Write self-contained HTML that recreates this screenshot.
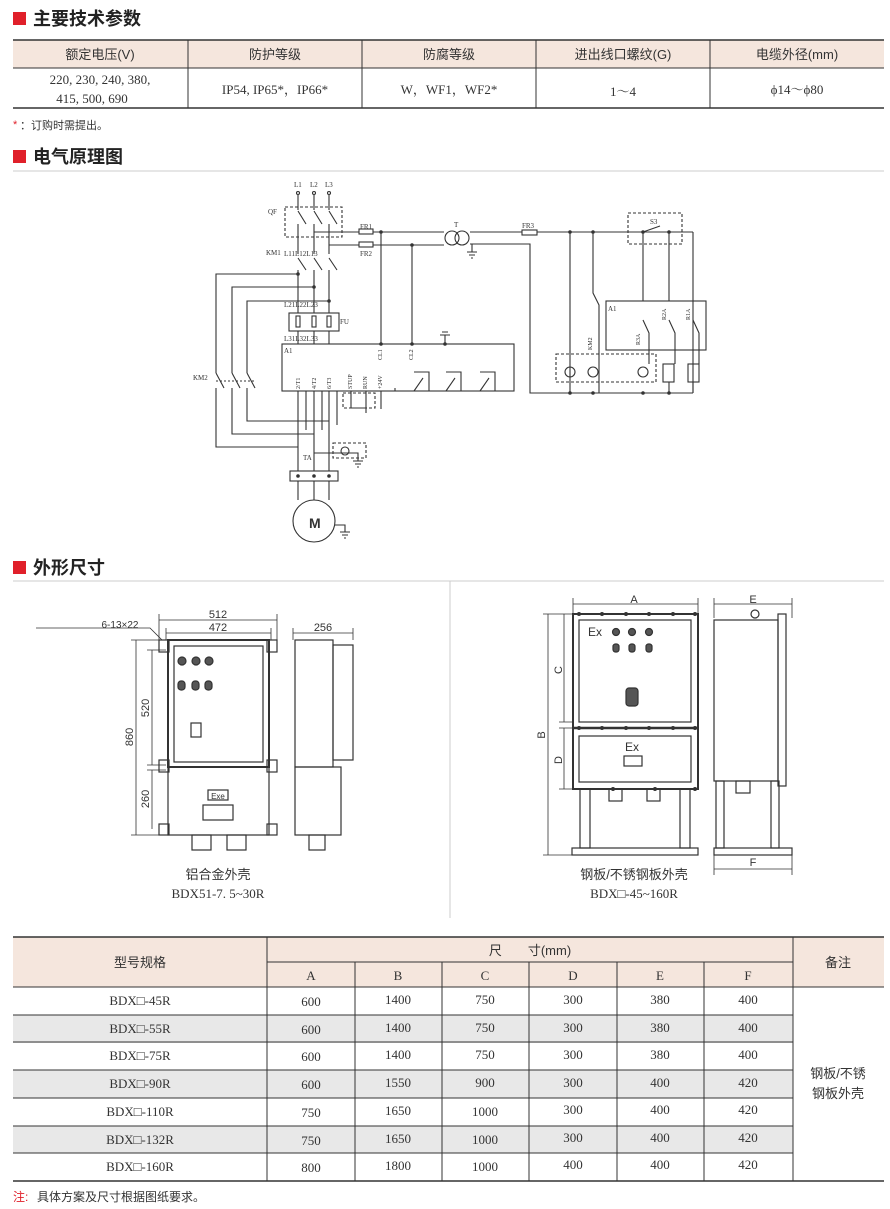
<!DOCTYPE html>
<html><head><meta charset="utf-8"><style>
html,body{margin:0;padding:0;background:#fff;}
svg{display:block;}
.t{font-family:"Liberation Sans","Noto Sans CJK SC",sans-serif;}
.s{font-family:"Liberation Serif","Noto Serif CJK SC",serif;}
.h{font-family:"Liberation Sans","Noto Sans CJK SC",sans-serif;font-weight:bold;font-size:18px;fill:#222;}
.dr{stroke:#333;stroke-width:1.2;fill:none;}
.dr circle,.dr rect[rx]{fill:#555;}
</style></head><body>
<svg width="890" height="1209" viewBox="0 0 890 1209" xmlns="http://www.w3.org/2000/svg">
<!-- Section 1 -->
<rect x="13" y="12" width="13" height="13" fill="#e0202a"/>
<text x="33" y="25" class="h">主要技术参数</text>
<rect x="13" y="40" width="871" height="28" fill="#f5e6dd"/>
<g stroke="#333" stroke-width="1">
<line x1="13" y1="40" x2="884" y2="40" stroke-width="1.5"/>
<line x1="13" y1="68" x2="884" y2="68"/>
<line x1="13" y1="108" x2="884" y2="108" stroke-width="1.5"/>
<line x1="188" y1="40" x2="188" y2="108"/><line x1="362" y1="40" x2="362" y2="108"/>
<line x1="536" y1="40" x2="536" y2="108"/><line x1="710" y1="40" x2="710" y2="108"/>
</g>
<g class="t" font-size="13" fill="#333" text-anchor="middle">
<text x="100" y="59">额定电压(V)</text><text x="275" y="59">防护等级</text><text x="449" y="59">防腐等级</text><text x="623" y="59">进出线口螺纹(G)</text><text x="797" y="59">电缆外径(mm)</text>
</g>
<g class="s" font-size="13" fill="#333" text-anchor="middle">
<text x="100" y="84">220, 230, 240, 380,</text><text x="92" y="103">415, 500, 690</text>
<text x="275" y="94">IP54,  IP65*，IP66*</text><text x="449" y="94">W，WF1，WF2*</text>
<text x="623" y="96">1～4</text><text x="797" y="94">ϕ14～ϕ80</text>
</g>
<text x="13" y="128" class="t" font-size="11" fill="#e0202a">*</text><text x="20" y="129" class="t" font-size="11" fill="#333">：订购时需提出。</text>
<!-- Section 2 -->
<rect x="13" y="150" width="13" height="13" fill="#e0202a"/>
<text x="33" y="163" class="h">电气原理图</text>
<line x1="13" y1="171" x2="884" y2="171" stroke="#ccc"/>
<!-- schematic -->
<g stroke="#333" stroke-width="1.1" fill="none">
<g class="s" font-size="7" fill="#333" stroke="none">
<text x="294" y="187">L1</text><text x="310" y="187">L2</text><text x="325" y="187">L3</text>
<text x="268" y="214">QF</text><text x="266" y="255">KM1</text><text x="360" y="229">FR1</text><text x="360" y="256">FR2</text>
<text x="454" y="227">T</text><text x="522" y="228">FR3</text><text x="650" y="224">S3</text>
<text x="284" y="256">L11L12L13</text><text x="284" y="307">L21L22L23</text><text x="284" y="341">L31L32L33</text>
<text x="340" y="324">FU</text><text x="284" y="353">A1</text><text x="608" y="311">A1</text><text x="193" y="380">KM2</text><text x="303" y="460">TA</text>
</g>
<circle cx="298" cy="193" r="1.5"/><circle cx="314" cy="193" r="1.5"/><circle cx="329" cy="193" r="1.5"/>
<rect x="285" y="207" width="57" height="30" stroke-dasharray="3,2"/>
<path d="M298 195V210M314 195V210M329 195V210M298 211L306 224M314 211L322 224M329 211L337 224M298 224V254M314 224V254M329 224V254"/>
<path d="M298 258L306 270M314 258L322 270M329 258L337 270M298 270V313M314 270V313M329 270V313"/>
<path d="M314 232H359M329 245H359M373 232H444M373 245H444M470 232H522M537 232H693M470 244H530V393H693"/>
<rect x="359" y="229" width="14" height="5"/><rect x="359" y="242" width="14" height="5"/><rect x="522" y="230" width="15" height="5"/>
<circle cx="452" cy="238" r="7"/><circle cx="462" cy="238" r="7"/>
<path d="M472 244V252M467 252H477M469 255H475M471 258H473"/>
<path d="M381 232V344M412 245V344"/>
<path d="M298 274H216V373M314 287H232V373M329 301H247V373M216 388V447H298M232 388V434H314M247 388V421H329"/>
<path d="M216 373L224 388M232 373L240 388M247 373L255 388"/>
<line x1="216" y1="381" x2="255" y2="381" stroke-dasharray="2,2"/>
<rect x="289" y="313" width="50" height="18"/>
<rect x="296" y="316" width="4" height="11"/><rect x="312" y="316" width="4" height="11"/><rect x="327" y="316" width="4" height="11"/>
<path d="M298 331V344M314 331V344M329 331V344"/>
<rect x="282" y="344" width="232" height="47"/>
<path d="M445 344V335M440 335H450M442 332H448"/>
<path d="M298 391V471M306 391V430M314 391V471M322 391V430M329 391V471M337 391V425"/>
<rect x="343" y="393" width="32" height="15" stroke-dasharray="3,2"/>
<path d="M351 391V408H366V413M366 391V413M381 391V409M381 391H395M395 391V388"/>
<path d="M414 372H429V391M414 391L423 378M446 372H461V391M446 391L455 378M480 372H495V391M480 391L489 378"/>
<rect x="333" y="443" width="33" height="15" stroke-dasharray="3,2"/>
<circle cx="345" cy="451" r="4"/>
<path d="M314 453H358V461M353 461H363M355 464H361M357 467H359"/>
<rect x="290" y="471" width="48" height="10"/>
<path d="M298 481V500M314 481V500M329 481V500"/>
<circle cx="314" cy="521" r="21"/>
<path d="M335 525H345V532M340 532H350M342 535H348M344 538H346"/>
<rect x="628" y="213" width="54" height="31" stroke-dasharray="3,2"/>
<path d="M643 232V301M669 232V301M693 232V393M643 232L660 226M570 232V393M593 232V293L599 305V393"/>
<rect x="606" y="301" width="100" height="49"/>
<path d="M643 320L649 333V364M669 320L675 333V364M693 320L699 333V364M669 382V393M693 382V393"/>
<rect x="556" y="354" width="100" height="28" stroke-dasharray="3,2"/>
<circle cx="570" cy="372" r="5"/><circle cx="593" cy="372" r="5"/><circle cx="643" cy="372" r="5"/>
<rect x="663" y="364" width="11" height="18"/><rect x="688" y="364" width="11" height="18"/>
<g class="s" font-size="6" fill="#333" stroke="none">
<text transform="translate(382,360) rotate(-90)">CL1</text><text transform="translate(413,360) rotate(-90)">CL2</text>
<text transform="translate(300,389) rotate(-90)">2/T1</text><text transform="translate(316,389) rotate(-90)">4/T2</text><text transform="translate(331,389) rotate(-90)">6/T3</text>
<text transform="translate(352,389) rotate(-90)">STUP</text><text transform="translate(367,389) rotate(-90)">RUN</text><text transform="translate(382,389) rotate(-90)">+24V</text>
<text transform="translate(640,345) rotate(-90)">R3A</text><text transform="translate(666,320) rotate(-90)">R2A</text><text transform="translate(690,320) rotate(-90)">R1A</text>
<text transform="translate(592,350) rotate(-90)">KM2</text>
</g>
<g fill="#333" stroke="none">
<circle cx="298" cy="274" r="1.8"/><circle cx="314" cy="287" r="1.8"/><circle cx="329" cy="301" r="1.8"/><circle cx="381" cy="232" r="1.8"/><circle cx="412" cy="245" r="1.8"/>
<circle cx="381" cy="344" r="1.8"/><circle cx="412" cy="344" r="1.8"/><circle cx="445" cy="344" r="1.8"/>
<circle cx="570" cy="232" r="1.8"/><circle cx="593" cy="232" r="1.8"/><circle cx="643" cy="232" r="1.8"/><circle cx="669" cy="232" r="1.8"/>
<circle cx="570" cy="393" r="1.8"/><circle cx="593" cy="393" r="1.8"/><circle cx="643" cy="393" r="1.8"/><circle cx="669" cy="393" r="1.8"/>
<circle cx="298" cy="476" r="1.8"/><circle cx="314" cy="476" r="1.8"/><circle cx="329" cy="476" r="1.8"/>
</g>
<text x="309" y="528" class="t" font-size="14" font-weight="bold" fill="#333" stroke="none">M</text>
</g>
<!-- Section 3 -->
<rect x="13" y="561" width="13" height="13" fill="#e0202a"/>
<text x="33" y="574" class="h">外形尺寸</text>
<line x1="13" y1="581" x2="884" y2="581" stroke="#ccc"/>
<line x1="450" y1="581" x2="450" y2="918" stroke="#ccc"/>
<!-- left drawing -->
<g class="dr">
<path d="M159 620H277M166 633H271M293 633H353M159 614V640M277 614V640M166 628V640M271 628V640M293 628V640M353 628V640" stroke-width="0.8"/>
<path d="M136 640V835M152 650V765M152 770V829M131 640H160M147 650H166M147 765H166M147 770H166M131 835H160" stroke-width="0.8"/>
<rect x="168" y="640" width="101" height="127" stroke-width="2"/>
<rect x="174" y="646" width="89" height="116"/>
<rect x="168" y="767" width="101" height="68"/>
<rect x="159" y="640" width="10" height="12"/><rect x="267" y="640" width="10" height="12"/>
<rect x="159" y="760" width="10" height="12"/><rect x="267" y="760" width="10" height="12"/>
<rect x="159" y="824" width="10" height="11"/><rect x="267" y="824" width="10" height="11"/>
<rect x="192" y="835" width="19" height="15"/><rect x="227" y="835" width="19" height="15"/>
<rect x="208" y="790" width="20" height="10"/><rect x="203" y="805" width="30" height="15"/>
<circle cx="182" cy="661" r="4"/><circle cx="196" cy="661" r="4"/><circle cx="209" cy="661" r="4"/>
<rect x="178" y="681" width="7" height="9" rx="3"/><rect x="192" y="681" width="7" height="9" rx="3"/><rect x="205" y="681" width="7" height="9" rx="3"/>
<rect x="191" y="723" width="10" height="14"/>
<rect x="295" y="640" width="38" height="127"/><rect x="333" y="645" width="20" height="115"/>
<rect x="295" y="767" width="46" height="68"/><rect x="309" y="835" width="16" height="15"/>
<path d="M36 628H150L162 640" stroke-width="0.8"/>
</g>
<g class="t" font-size="11" fill="#333" text-anchor="middle">
<text x="218" y="618">512</text><text x="218" y="631">472</text><text x="323" y="631">256</text><text x="120" y="628" font-size="10">6-13×22</text>
<text transform="translate(133,737) rotate(-90)">860</text><text transform="translate(149,708) rotate(-90)">520</text><text transform="translate(149,799) rotate(-90)">260</text>
<text x="218" y="799" font-size="8">Exe</text>
<text x="218" y="879" font-size="13">铝合金外壳</text>
</g>
<text x="218" y="898" class="s" font-size="13" fill="#333" text-anchor="middle">BDX51-7. 5~30R</text>
<!-- right drawing -->
<g class="dr">
<path d="M573 604H698M573 598V614M698 598V614M714 604H792M714 598V618M792 598V618M714 869H792M714 855V875M792 855V875" stroke-width="0.8"/>
<path d="M548 614V855M543 614H573M543 855H573M564 614V722M564 728V789M559 722H573M559 728H573M559 789H573" stroke-width="0.8"/>
<rect x="573" y="614" width="125" height="175" stroke-width="2"/>
<rect x="579" y="620" width="112" height="102"/>
<line x1="573" y1="728" x2="698" y2="728" stroke-width="2.5"/>
<rect x="579" y="736" width="112" height="46"/>
<rect x="580" y="789" width="10" height="59"/><rect x="680" y="789" width="10" height="59"/>
<rect x="572" y="848" width="126" height="7"/>
<rect x="609" y="789" width="13" height="12"/><rect x="647" y="789" width="13" height="12"/>
<rect x="624" y="756" width="18" height="10"/>
<circle cx="616" cy="632" r="3.5"/><circle cx="632" cy="632" r="3.5"/><circle cx="649" cy="632" r="3.5"/>
<rect x="613" y="644" width="6" height="8" rx="2.5"/><rect x="629" y="644" width="6" height="8" rx="2.5"/><rect x="646" y="644" width="6" height="8" rx="2.5"/>
<rect x="626" y="688" width="12" height="18" rx="3"/>
<rect x="714" y="620" width="64" height="161"/><rect x="778" y="614" width="8" height="172"/>
<rect x="716" y="781" width="8" height="67"/><rect x="771" y="781" width="8" height="67"/>
<rect x="714" y="848" width="78" height="7"/><rect x="736" y="781" width="14" height="12"/>
<circle cx="755" cy="614" r="4" style="fill:none"/>
</g>
<g fill="#333"><circle cx="579" cy="614" r="2"/><circle cx="602" cy="614" r="2"/><circle cx="626" cy="614" r="2"/><circle cx="649" cy="614" r="2"/><circle cx="673" cy="614" r="2"/><circle cx="695" cy="614" r="2"/>
<circle cx="579" cy="728" r="2"/><circle cx="602" cy="728" r="2"/><circle cx="626" cy="728" r="2"/><circle cx="649" cy="728" r="2"/><circle cx="673" cy="728" r="2"/><circle cx="695" cy="728" r="2"/>
<circle cx="613" cy="789" r="2"/><circle cx="655" cy="789" r="2"/><circle cx="695" cy="789" r="2"/></g>
<g class="t" font-size="11" fill="#333" text-anchor="middle">
<text x="634" y="603">A</text><text x="753" y="603">E</text><text x="753" y="866">F</text>
<text transform="translate(545,735) rotate(-90)">B</text><text transform="translate(562,670) rotate(-90)">C</text><text transform="translate(562,760) rotate(-90)">D</text>
<text x="595" y="636" font-size="12">Ex</text><text x="632" y="751" font-size="12">Ex</text>
<text x="634" y="879" font-size="13">钢板/不锈钢板外壳</text>
</g>
<text x="634" y="898" class="s" font-size="13" fill="#333" text-anchor="middle">BDX□-45~160R</text>
<!-- Table 2 -->
<rect x="13" y="937" width="871" height="50" fill="#f5e6dd"/>
<rect x="13" y="1015" width="780" height="28" fill="#e8e8e8"/>
<rect x="13" y="1070" width="780" height="28" fill="#e8e8e8"/>
<rect x="13" y="1126" width="780" height="27" fill="#e8e8e8"/>
<g stroke="#333" stroke-width="1">
<line x1="13" y1="937" x2="884" y2="937" stroke-width="1.5"/>
<line x1="267" y1="962" x2="793" y2="962"/>
<line x1="13" y1="987" x2="884" y2="987"/>
<line x1="13" y1="1015" x2="793" y2="1015"/><line x1="13" y1="1042" x2="793" y2="1042"/><line x1="13" y1="1070" x2="793" y2="1070"/>
<line x1="13" y1="1098" x2="793" y2="1098"/><line x1="13" y1="1126" x2="793" y2="1126"/><line x1="13" y1="1153" x2="793" y2="1153"/>
<line x1="13" y1="1181" x2="884" y2="1181" stroke-width="1.5"/>
<line x1="267" y1="937" x2="267" y2="1181"/><line x1="793" y1="937" x2="793" y2="1181"/>
<line x1="355" y1="962" x2="355" y2="1181"/><line x1="442" y1="962" x2="442" y2="1181"/><line x1="529" y1="962" x2="529" y2="1181"/>
<line x1="617" y1="962" x2="617" y2="1181"/><line x1="704" y1="962" x2="704" y2="1181"/>
</g>
<g class="t" font-size="13" fill="#333" text-anchor="middle">
<text x="140" y="967">型号规格</text><text x="530" y="955">尺　　寸(mm)</text><text x="838" y="967">备注</text>
<text x="838" y="1078">钢板/不锈</text><text x="838" y="1098">钢板外壳</text>
</g>
<g class="s" font-size="13" fill="#333" text-anchor="middle">
<text x="311" y="980">A</text><text x="398" y="980">B</text><text x="485" y="980">C</text><text x="573" y="980">D</text><text x="660" y="980">E</text><text x="748" y="980">F</text>
<text x="140" y="1005">BDX□-45R</text><text x="140" y="1033">BDX□-55R</text><text x="140" y="1060">BDX□-75R</text><text x="140" y="1088">BDX□-90R</text><text x="140" y="1116">BDX□-110R</text><text x="140" y="1144">BDX□-132R</text><text x="140" y="1171">BDX□-160R</text>
<g><text x="311" y="1006">600</text><text x="398" y="1004">1400</text><text x="485" y="1004">750</text><text x="573" y="1004">300</text><text x="660" y="1004">380</text><text x="748" y="1004">400</text></g>
<g><text x="311" y="1034">600</text><text x="398" y="1032">1400</text><text x="485" y="1032">750</text><text x="573" y="1032">300</text><text x="660" y="1032">380</text><text x="748" y="1032">400</text></g>
<g><text x="311" y="1061">600</text><text x="398" y="1059">1400</text><text x="485" y="1059">750</text><text x="573" y="1059">300</text><text x="660" y="1059">380</text><text x="748" y="1059">400</text></g>
<g><text x="311" y="1089">600</text><text x="398" y="1087">1550</text><text x="485" y="1087">900</text><text x="573" y="1087">300</text><text x="660" y="1087">400</text><text x="748" y="1087">420</text></g>
<g><text x="311" y="1117">750</text><text x="398" y="1115">1650</text><text x="485" y="1116">1000</text><text x="573" y="1114">300</text><text x="660" y="1114">400</text><text x="748" y="1114">420</text></g>
<g><text x="311" y="1145">750</text><text x="398" y="1143">1650</text><text x="485" y="1144">1000</text><text x="573" y="1142">300</text><text x="660" y="1142">400</text><text x="748" y="1142">420</text></g>
<g><text x="311" y="1172">800</text><text x="398" y="1170">1800</text><text x="485" y="1171">1000</text><text x="573" y="1169">400</text><text x="660" y="1169">400</text><text x="748" y="1169">420</text></g>
</g>
<text x="13" y="1201" class="t" font-size="12" fill="#e0202a">注:</text><text x="37" y="1201" class="t" font-size="12" fill="#333">具体方案及尺寸根据图纸要求。</text>
</svg>
</body></html>
